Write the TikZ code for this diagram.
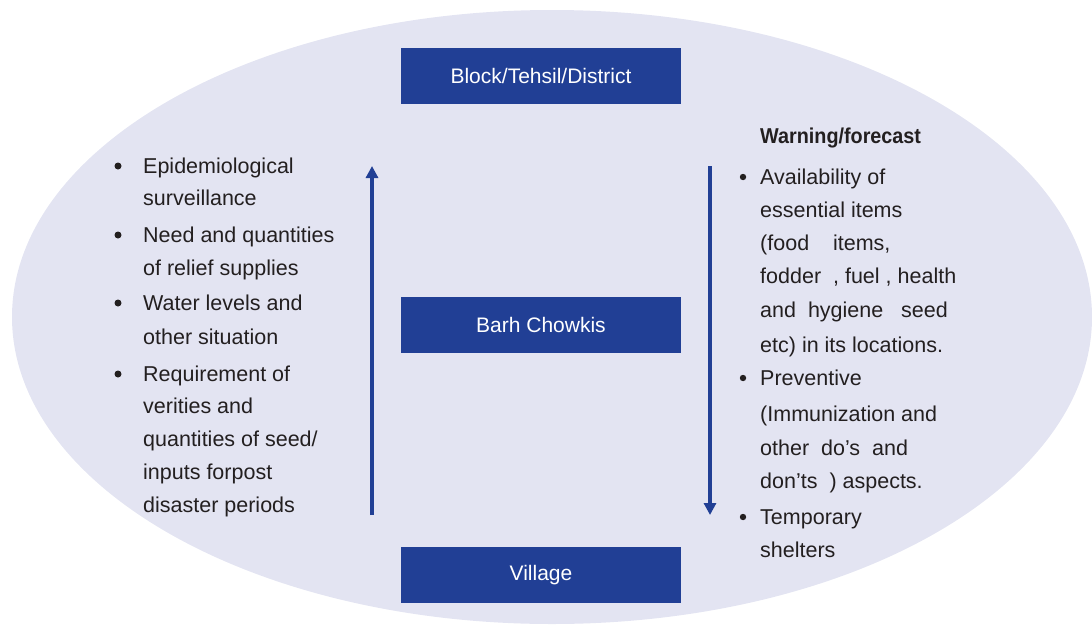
\documentclass[tikz,border=0pt]{standalone}
\usepackage{fontspec}
\setmainfont{Liberation Sans}
\newfontfamily\headfont[FakeStretch=0.92]{Liberation Sans}
\usetikzlibrary{arrows.meta}
\definecolor{boxblue}{HTML}{213F95}
\definecolor{ovalfill}{HTML}{E3E4F2}
\definecolor{txt}{HTML}{231F20}
\tikzset{
  lvlbox/.style={fill=boxblue, minimum width=280pt, minimum height=56pt, inner sep=0pt,
    text=white, font=\fontsize{21}{24}\selectfont},
  line/.style={anchor=base west, inner sep=0pt, text=txt, font=\fontsize{21.5}{26}\selectfont},
  head/.style={anchor=base west, inner sep=0pt, text=txt, font=\headfont\bfseries\fontsize{21.5}{26}\selectfont},
  flow/.style={draw=boxblue, line width=4pt, -{Triangle[width=12pt,length=12pt]}},
  bul/.style={fill=txt}
}
\begin{document}
\begin{tikzpicture}[x=1pt,y=-1pt]
\useasboundingbox (0,0) rectangle (1092,624);
\begin{scope}
\clip (0,0) rectangle (1092,624);
\fill[ovalfill] (552,317) ellipse [x radius=540, y radius=307];
\end{scope}

\node[lvlbox] (block) at (541,76) {Block/Tehsil/District};
\node[lvlbox] (barh) at (541,325) {Barh Chowkis};
\node[lvlbox] (village) at (541,575) {Village};

\coordinate (upS) at (372,515);
\coordinate (upE) at (372,166);
\coordinate (dnS) at (710,166);
\coordinate (dnE) at (710,515);
\draw[flow] (upS) -- (upE);
\draw[flow] (dnS) -- (dnE);

% left list
\fill[bul] (118,166) circle (3.5);
\fill[bul] (118,235) circle (3.5);
\fill[bul] (118,303) circle (3.5);
\fill[bul] (118,374) circle (3.5);
\node[line] (l1) at (143,173) {Epidemiological};
\node[line] (l2) at (143,205) {surveillance};
\node[line] (l3) at (143,242) {Need and quantities};
\node[line] (l4) at (143,275) {of relief supplies};
\node[line] (l5) at (143,310) {Water levels and};
\node[line] (l6) at (143,344) {other situation};
\node[line] (l7) at (143,381) {Requirement of};
\node[line] (l8) at (143,413) {verities and};
\node[line] (l9) at (143,446) {quantities of seed/};
\node[line] (l10) at (143,479) {inputs forpost};
\node[line] (l11) at (143,512) {disaster periods};

% right list
\node[head] (warn) at (760,143) {Warning/forecast};
\fill[bul] (743,177) circle (3.2);
\fill[bul] (743,378) circle (3.2);
\fill[bul] (743,517) circle (3.2);
\node[line] (r1) at (760,184) {Availability of};
\node[line] (r2) at (760,217) {essential items};
\node[line] (r3) at (760,250) {(food\ \ \ \ items,};
\node[line] (r4) at (760,283) {fodder\ \ , fuel , health};
\node[line] (r5) at (760,317) {and\ \ hygiene\ \ \ seed};
\node[line] (r6) at (760,352) {etc) in its locations.};
\node[line] (r7) at (760,385) {Preventive};
\node[line] (r8) at (760,421) {(Immunization and};
\node[line] (r9) at (760,455) {other\ \ do’s\ \ and};
\node[line] (r10) at (760,488) {don’ts\ \ ) aspects.};
\node[line] (r11) at (760,524) {Temporary};
\node[line] (r12) at (760,557) {shelters};
\end{tikzpicture}
\end{document}
